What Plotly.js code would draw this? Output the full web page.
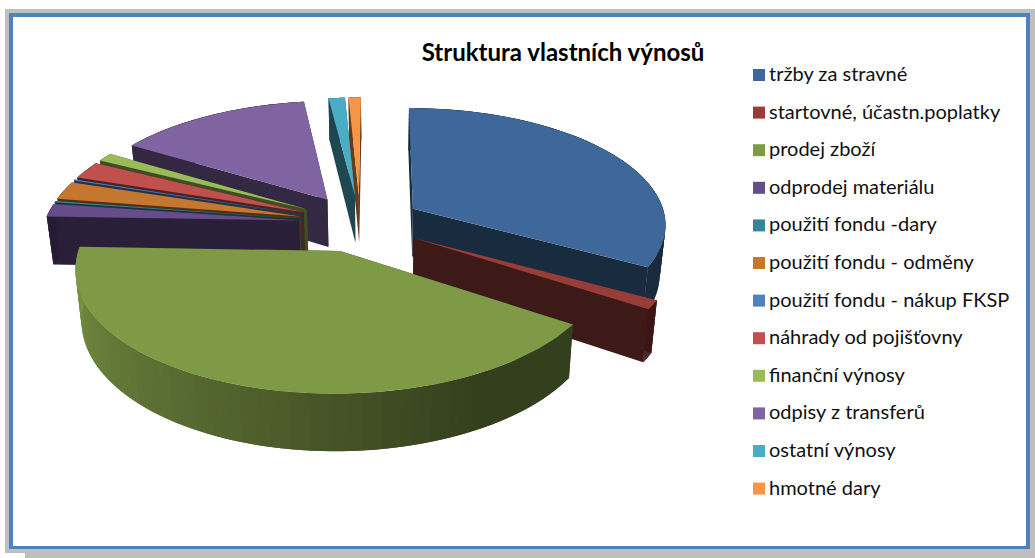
<!DOCTYPE html>
<html>
<head>
<meta charset="utf-8">
<script src="https://cdn.plot.ly/plotly-3.0.1.min.js"></script>
<style>html,body{margin:0;padding:0;background:#fff;overflow:hidden}#chart{width:1035px;height:558px}</style>
</head>
<body>
<div id="chart"></div>
<script>
var titleText = 'Struktura vlastních výnosů';
var categories = ['tržby za stravné','startovné, účastn.poplatky','prodej zboží','odprodej materiálu','použití fondu -dary','použití fondu - odměny','použití fondu - nákup FKSP','náhrady od pojišťovny','finanční výnosy','odpisy z transferů','ostatní výnosy','hmotné dary'];
var shares = [33.05,1.2,41.3,1.75,0.2,2.45,0.15,2.4,1.2,14.2,1.2,0.9];
var colors = ['#3e6899','#963d3a','#7f9a47','#664c88','#39849a','#c6772f','#4f81bd','#c0504d','#9bbb59','#8064a2','#4bacc6','#f79646'];

// Projection of the tilted, exploded 3-D pie on to the pixel-scaled axes
var CX = 360, CY = 223, XP = 378, R = 254, EXPLODE = 62, TILT = 0.46, PERSP = 0.0005, DEPTH = 48.5, BASE_SHRINK = 0.98;
var WALL = 0.41;

function rgb(hex){ return [1,3,5].map(function(i){ return parseInt(hex.substr(i,2),16); }); }
function scale(hex,f){ var c = rgb(hex); return 'rgb('+c.map(function(v){ return Math.round(v*f); }).join(',')+')'; }
function rad(d){ return d*Math.PI/180; }
function project(X,Z,bottom){
  var s = 1/(1-PERSP*Z);
  var x = XP + (CX-XP+X)*s, y = CY + TILT*Z*s;
  if(bottom){ x = XP + (x-XP)*BASE_SHRINK; y += DEPTH*s; }
  return [x,y];
}
function poly(points,color){
  return {type:'scatter',mode:'lines',fill:'toself',fillcolor:color,hoverinfo:'skip',showlegend:false,
    x:points.map(function(p){return p[0];}),y:points.map(function(p){return p[1];}),
    line:{color:color,width:0,shape:'linear'}};
}
function sliceTraces(i,a0,a1){
  var mid = (a0+a1)/2;
  var ox = EXPLODE*Math.sin(rad(mid)), oz = -EXPLODE*Math.cos(rad(mid));
  function rim(a,b){ return project(ox+R*Math.sin(rad(a)), oz-R*Math.cos(rad(a)), b); }
  function apex(b){ return project(ox,oz,b); }
  var out = [], wall = scale(colors[i],WALL);
  out.push(poly([apex(false),rim(a0,false),rim(a0,true),apex(true)],wall));
  out.push(poly([apex(false),rim(a1,false),rim(a1,true),apex(true)],wall));
  var step = Math.max((a1-a0)/75,0.1), a = a0;
  while(a < a1-1e-6){
    var b = Math.min(a+step,a1), c = Math.min(a+2*step,a1), f = WALL;
    if(a1-a0 > 140 && a > 150){ f = WALL + 0.56*(a-150)/122; }
    // each band runs under the next one, so no seam shows between bands
    out.push(poly([rim(a,false),rim(c,false),rim(c,true),rim(a,true)],scale(colors[i],f)));
    a = b;
  }
  var face = [apex(false)], n = Math.max(2,Math.ceil(a1-a0));
  for(var k=0;k<=n;k++){ face.push(rim(a0+(a1-a0)*k/n,false)); }
  out.push(poly(face,colors[i]));
  return out;
}

var total = shares.reduce(function(p,v){return p+v;},0), acc = 0, spans = [];
shares.forEach(function(v){ spans.push([acc/total*360,(acc+v)/total*360]); acc += v; });
var drawOrder = [11,10,9,8,7,6,5,4,3,0,1,2];
var traces = [];
drawOrder.forEach(function(i){ traces = traces.concat(sliceTraces(i,spans[i][0],spans[i][1])); });

// Legend column
var LEG_X = 759, LEG_TEXT_X = 769, LEG_TOP = 75, LEG_STEP = 37.6;
traces.push({type:'scatter',mode:'markers',hoverinfo:'skip',showlegend:false,cliponaxis:false,
  x:categories.map(function(){return LEG_X;}),
  y:categories.map(function(c,i){return LEG_TOP+i*LEG_STEP;}),
  marker:{symbol:'square',size:12,color:colors,line:{width:0}}});
traces.push({type:'scatter',mode:'text',hoverinfo:'skip',showlegend:false,cliponaxis:false,
  x:categories.map(function(){return LEG_TEXT_X;}),
  y:categories.map(function(c,i){return LEG_TOP+1+i*LEG_STEP;}),
  text:categories,textposition:'middle right',
  textfont:{family:'Lato, Carlito, sans-serif',size:20,color:'#111111'}});

var layout = {
  width:1035,height:558,margin:{l:0,r:0,t:0,b:0},paper_bgcolor:'#ffffff',plot_bgcolor:'rgba(0,0,0,0)',showlegend:false,
  title:{text:'<b>'+titleText+'</b>',x:563/1035,y:1-53/558,xanchor:'center',yanchor:'middle',font:{family:'Lato, Carlito, sans-serif',size:24,color:'#000000'}},
  xaxis:{range:[0,1035],visible:false,fixedrange:true},
  yaxis:{range:[558,0],visible:false,fixedrange:true},
  shapes:[
    {type:'rect',layer:'below',xref:'x',yref:'y',x0:5,y0:9,x1:1035,y1:553,fillcolor:'#bfbfbf',line:{width:0}},
    {type:'rect',layer:'below',xref:'x',yref:'y',x0:25,y0:549,x1:1035,y1:558,fillcolor:'#bfbfbf',line:{width:0}},
    {type:'rect',layer:'below',xref:'x',yref:'y',x0:9,y0:13,x1:1030,y1:549,fillcolor:'#4f81bd',line:{width:0}},
    {type:'rect',layer:'below',xref:'x',yref:'y',x0:13,y0:17,x1:1026,y1:546,fillcolor:'#ffffff',line:{width:0}}
  ]
};
Plotly.newPlot('chart',traces,layout,{displayModeBar:false,staticPlot:true});
</script>
</body>
</html>
